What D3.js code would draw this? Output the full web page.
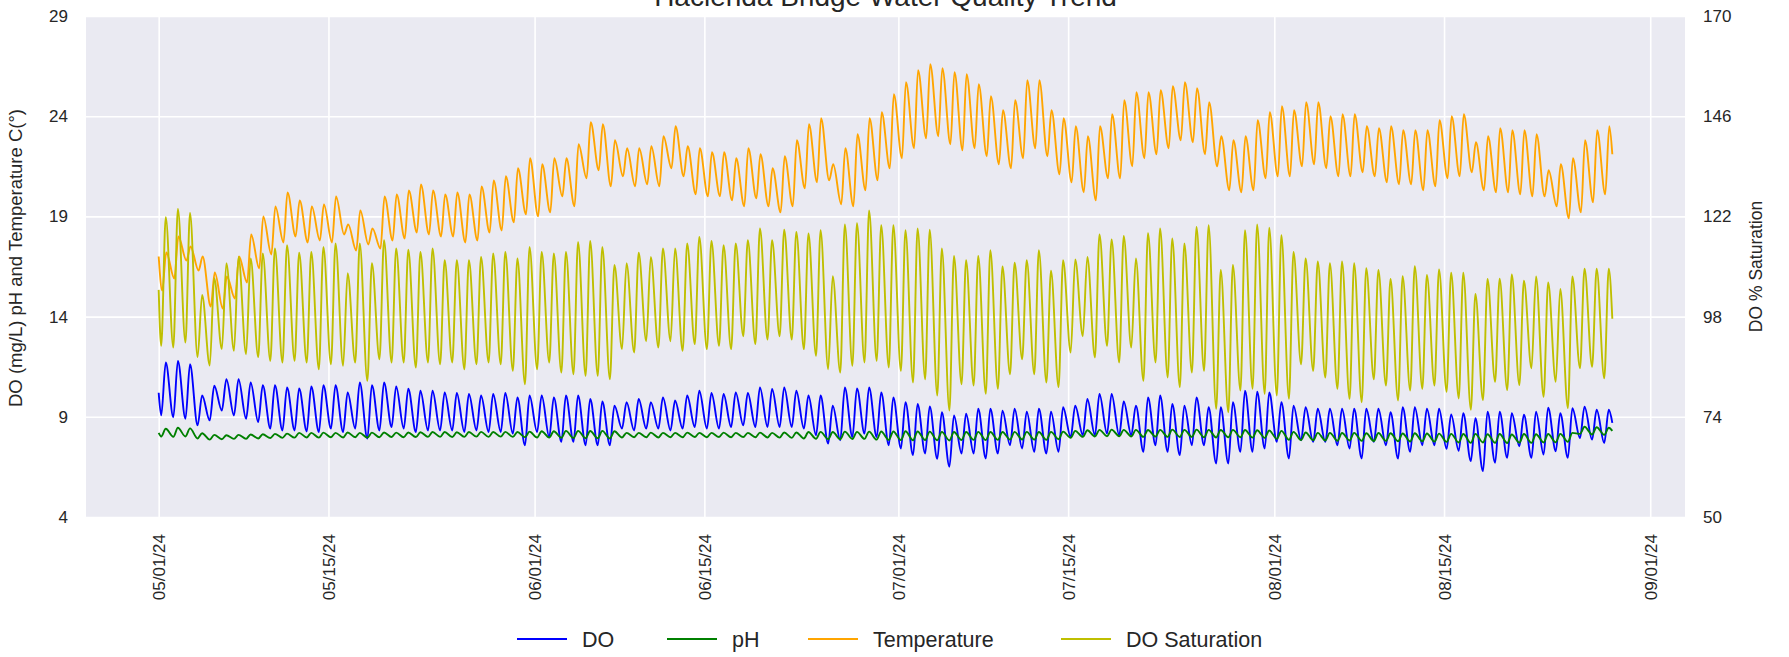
<!DOCTYPE html>
<html>
<head>
<meta charset="utf-8">
<script src="https://cdn.jsdelivr.net/npm/d3@7"></script>
<style>
  html, body { margin: 0; padding: 0; background: #fff; }
  text { font-family: "Liberation Sans", Arial, sans-serif; fill: #262626; }
</style>
</head>
<body>
<div id="chart"></div>
<script>
// daily readings: one low (early morning) and one high (afternoon) per day, 05/01/24 .. 08/28/24
const startDay = Date.UTC(2024, 4, 1)
const endTime = Date.UTC(2024, 7, 28, 21)

const tempLow = [
  15.3, 15.9, 16.8, 16.3, 14.5, 14.4, 14.9, 15.7, 16.4, 17.1,
  17.7, 18.0, 17.7, 17.8, 17.7, 18.1, 17.3, 17.6, 17.4, 17.8,
  17.9, 18.2, 18.1, 18.0, 18.0, 17.7, 17.8, 18.2, 18.3, 18.7,
  19.1, 19.0, 19.2, 20.0, 19.5, 20.9, 21.3, 20.5, 21.0, 20.5,
  20.6, 20.5, 21.4, 21.0, 20.1, 20.0, 20.0, 19.8, 19.5, 19.9,
  19.5, 19.2, 19.5, 20.4, 20.7, 20.8, 19.6, 19.5, 20.3, 20.8,
  21.4, 21.9, 22.4, 22.9, 23.0, 22.6, 22.3, 22.4, 22.0, 21.6,
  21.4, 21.9, 22.4, 22.0, 21.1, 20.7, 20.2, 19.8, 20.9, 20.9,
  21.5, 21.9, 22.1, 22.4, 22.8, 22.7, 22.1, 21.5, 20.3, 20.2,
  20.3, 20.9, 21.0, 21.0, 21.5, 21.6, 21.4, 21.0, 21.0, 21.2,
  21.0, 20.7, 20.6, 20.6, 20.3, 20.5, 20.9, 21.0, 21.2, 20.3,
  20.2, 20.2, 20.1, 20.0, 20.0, 19.5, 18.9, 19.2, 19.7, 20.1
]
const tempHigh = [
  17.2, 18.0, 17.5, 17.0, 16.2, 16.0, 17.0, 18.1, 19.0, 19.5,
  20.2, 19.8, 19.5, 19.6, 20.0, 18.6, 19.3, 18.4, 20.0, 20.1,
  20.3, 20.6, 20.3, 20.1, 20.2, 20.1, 20.5, 20.8, 21.0, 21.4,
  21.9, 21.6, 21.9, 21.9, 22.6, 23.7, 23.6, 22.8, 22.4, 22.4,
  22.5, 23.0, 23.5, 22.5, 22.4, 22.2, 22.2, 21.9, 22.4, 22.1,
  21.4, 22.0, 22.8, 23.6, 23.9, 21.6, 22.4, 23.1, 23.9, 24.2,
  25.1, 25.7, 26.3, 26.6, 26.4, 26.2, 26.1, 25.6, 25.0, 24.3,
  24.8, 25.8, 25.8, 24.3, 23.9, 23.5, 23.0, 23.5, 24.1, 24.8,
  25.2, 25.2, 25.3, 25.5, 25.7, 25.4, 24.7, 23.0, 22.8, 23.0,
  23.8, 24.2, 24.5, 24.3, 24.7, 24.7, 24.0, 24.1, 24.1, 23.5,
  23.4, 23.5, 23.3, 23.3, 23.3, 23.8, 24.0, 24.1, 22.7, 23.0,
  23.4, 23.3, 23.3, 23.1, 21.3, 21.6, 21.9, 22.8, 23.3, 23.5
]

const satLow = [
  91.0, 90.6, 91.8, 88.3, 86.3, 90.2, 89.8, 89.0, 88.3, 87.4,
  87.0, 87.4, 87.0, 85.4, 86.6, 86.2, 87.0, 82.6, 87.8, 87.0,
  87.0, 85.8, 87.0, 86.6, 87.0, 85.4, 86.6, 87.0, 86.6, 85.0,
  81.8, 85.4, 87.0, 84.6, 84.2, 83.8, 83.8, 83.0, 90.2, 89.4,
  92.1, 90.6, 92.1, 89.8, 91.4, 90.2, 91.0, 90.2, 93.3, 91.4,
  92.5, 93.3, 92.5, 90.2, 88.6, 85.4, 84.6, 86.2, 87.0, 87.4,
  85.8, 85.0, 82.2, 83.0, 79.1, 75.5, 81.8, 81.5, 79.5, 80.7,
  84.2, 87.8, 84.2, 82.2, 81.1, 89.4, 93.3, 88.2, 91.0, 87.0,
  90.6, 82.6, 87.0, 83.4, 81.1, 84.6, 85.0, 75.9, 75.1, 80.3,
  80.7, 79.5, 79.1, 78.3, 86.6, 85.0, 83.4, 80.7, 78.3, 77.5,
  83.0, 81.5, 77.9, 80.3, 80.7, 81.5, 80.0, 78.4, 75.7, 78.0,
  82.4, 80.4, 81.6, 85.6, 78.8, 82.4, 76.1, 85.6, 86.0, 83.2
]
const satHigh = [
  121.8, 123.8, 122.8, 103.2, 107.2, 110.8, 112.3, 111.9, 113.1, 114.3,
  115.1, 113.3, 113.5, 114.7, 115.5, 108.4, 115.5, 110.8, 116.3, 114.3,
  114.0, 113.5, 114.3, 111.5, 111.5, 111.5, 112.3, 113.1, 113.5, 111.9,
  114.7, 113.5, 113.1, 113.5, 115.9, 116.1, 114.7, 110.4, 110.8, 113.3,
  112.3, 114.3, 114.3, 115.5, 117.1, 116.1, 115.1, 115.5, 116.3, 119.1,
  116.3, 118.8, 118.3, 117.9, 118.7, 107.7, 120.1, 120.4, 123.4, 119.9,
  119.9, 118.7, 119.1, 118.8, 114.3, 112.5, 111.5, 112.5, 113.9, 110.0,
  110.9, 111.5, 113.9, 109.0, 111.5, 111.7, 112.3, 117.7, 116.5, 117.3,
  111.9, 118.0, 119.1, 116.7, 115.5, 119.5, 119.9, 109.2, 110.4, 118.7,
  120.1, 119.3, 117.5, 113.5, 111.9, 111.2, 110.8, 111.2, 110.8, 109.6,
  109.2, 107.0, 107.7, 110.1, 108.0, 109.3, 108.5, 108.5, 103.4, 107.0,
  107.1, 108.1, 106.6, 107.6, 106.2, 104.6, 107.6, 109.5, 109.5, 109.5
]

const doLow = [
  9.07, 8.98, 8.90, 8.57, 8.82, 9.31, 9.07, 8.90, 8.74, 8.41,
  8.32, 8.32, 8.27, 8.24, 8.41, 8.24, 8.41, 7.91, 8.32, 8.49,
  8.41, 8.24, 8.32, 8.32, 8.32, 8.24, 8.32, 8.24, 8.24, 8.16,
  7.58, 8.24, 7.99, 7.75, 7.75, 7.58, 7.58, 7.58, 8.41, 8.32,
  8.41, 8.41, 8.32, 8.41, 8.49, 8.41, 8.41, 8.49, 8.57, 8.49,
  8.49, 8.49, 8.49, 8.41, 8.08, 7.66, 7.83, 7.99, 8.16, 7.99,
  7.58, 7.42, 7.09, 7.17, 6.90, 6.51, 7.17, 7.17, 6.92, 7.17,
  7.58, 7.42, 7.25, 7.17, 7.25, 7.99, 8.08, 8.08, 8.16, 8.08,
  8.08, 7.25, 7.58, 7.25, 7.09, 7.58, 7.58, 6.67, 6.67, 7.25,
  7.25, 7.42, 7.75, 6.92, 7.83, 7.75, 7.75, 7.58, 7.42, 6.92,
  7.75, 7.58, 6.92, 7.25, 7.58, 7.58, 7.40, 7.30, 6.79, 6.29,
  6.71, 6.95, 7.53, 6.95, 7.12, 7.28, 6.95, 7.94, 7.86, 7.70
]
const doHigh = [
  11.71, 11.79, 11.62, 10.06, 10.55, 10.88, 10.88, 10.72, 10.58, 10.58,
  10.47, 10.42, 10.52, 10.58, 10.58, 10.22, 10.72, 10.58, 10.72, 10.52,
  10.40, 10.30, 10.30, 10.22, 10.19, 10.14, 10.06, 10.14, 10.19, 9.97,
  10.06, 10.06, 9.97, 10.06, 10.06, 9.89, 9.76, 9.56, 9.73, 9.89,
  9.73, 9.97, 9.81, 10.06, 10.30, 10.19, 10.14, 10.22, 10.19, 10.47,
  10.39, 10.47, 10.30, 10.06, 10.06, 9.56, 10.47, 10.42, 10.47, 10.22,
  9.97, 9.73, 9.64, 9.52, 9.23, 9.07, 9.15, 9.40, 9.40, 9.31,
  9.40, 9.26, 9.40, 9.26, 9.48, 9.56, 9.89, 10.14, 10.14, 9.76,
  9.56, 9.97, 10.06, 9.64, 9.56, 9.97, 9.48, 9.48, 9.73, 10.30,
  10.25, 10.22, 9.73, 9.56, 9.48, 9.40, 9.40, 9.40, 9.40, 9.40,
  9.40, 9.23, 9.48, 9.48, 9.40, 9.40, 9.12, 9.18, 8.93, 9.26,
  9.26, 9.18, 9.10, 9.26, 9.46, 9.18, 9.43, 9.51, 9.35, 9.35
]

const phLow = [
  8.02, 8.00, 8.02, 7.92, 7.86, 7.88, 7.90, 7.90, 7.92, 7.94,
  7.95, 7.96, 7.97, 7.96, 7.98, 7.97, 7.98, 7.96, 7.98, 7.99,
  7.98, 7.99, 8.00, 8.00, 7.99, 8.00, 8.01, 8.00, 8.01, 8.00,
  7.98, 7.97, 7.96, 7.95, 7.94, 7.93, 7.93, 7.92, 7.97, 7.98,
  7.98, 7.97, 7.98, 7.98, 7.99, 7.98, 7.99, 7.98, 7.99, 7.98,
  7.97, 7.96, 7.95, 7.92, 7.90, 7.88, 7.88, 7.89, 7.90, 7.86,
  7.85, 7.84, 7.83, 7.84, 7.83, 7.82, 7.84, 7.85, 7.84, 7.85,
  7.86, 7.87, 7.86, 7.85, 7.88, 7.95, 8.00, 8.02, 8.03, 8.03,
  8.02, 8.00, 8.01, 8.00, 7.99, 8.00, 7.98, 7.97, 7.98, 7.98,
  7.96, 7.95, 7.90, 7.85, 7.84, 7.83, 7.82, 7.80, 7.82, 7.80,
  7.79, 7.80, 7.78, 7.77, 7.78, 7.76, 7.75, 7.72, 7.70, 7.72,
  7.70, 7.69, 7.71, 7.70, 7.72, 7.73, 7.75, 8.15, 8.12, 8.10
]
const phHigh = [
  8.40, 8.45, 8.42, 8.18, 8.10, 8.08, 8.10, 8.12, 8.13, 8.15,
  8.16, 8.20, 8.20, 8.21, 8.20, 8.22, 8.20, 8.21, 8.22, 8.21,
  8.22, 8.23, 8.24, 8.24, 8.23, 8.24, 8.25, 8.24, 8.25, 8.24,
  8.26, 8.28, 8.28, 8.30, 8.30, 8.29, 8.30, 8.28, 8.20, 8.20,
  8.21, 8.20, 8.20, 8.21, 8.20, 8.20, 8.21, 8.20, 8.20, 8.21,
  8.20, 8.22, 8.22, 8.24, 8.25, 8.24, 8.26, 8.25, 8.26, 8.27,
  8.27, 8.28, 8.27, 8.26, 8.25, 8.24, 8.24, 8.25, 8.24, 8.24,
  8.25, 8.25, 8.24, 8.25, 8.26, 8.30, 8.33, 8.35, 8.36, 8.35,
  8.35, 8.34, 8.35, 8.36, 8.35, 8.36, 8.35, 8.34, 8.35, 8.34,
  8.33, 8.32, 8.30, 8.25, 8.22, 8.20, 8.20, 8.19, 8.20, 8.18,
  8.19, 8.18, 8.17, 8.18, 8.17, 8.16, 8.15, 8.14, 8.15, 8.13,
  8.14, 8.12, 8.14, 8.13, 8.14, 8.15, 8.20, 8.50, 8.48, 8.45
]

// first and last reading of each series
const seriesNames = ['DO', 'pH', 'Temperature', 'DO Saturation']
const firstVals = [10.2, 8.2, 17.0, 104.4]
const lastVals = [8.7, 8.3, 22.1, 97.5]

const leftTicks = [4, 9, 14, 19, 24, 29]
const rightTicks = [50, 74, 98, 122, 146, 170]
const dateTicks = ['2024-05-01', '2024-05-15', '2024-06-01', '2024-06-15', '2024-07-01', '2024-07-15', '2024-08-01', '2024-08-15', '2024-09-01']

/*
   ----------------------------------------------------------------------
   DIMENSIONS
   ----------------------------------------------------------------------
*/
let width = 1789, height = 657
let margins = { t: 16, b: 140, l: 86, r: 104 }
let chartdims = { width: width - margins.l - margins.r, height: height - margins.t - margins.b }

let svg = d3.select('#chart').selectAll('svg').data([0]).join('svg')
  .attr('width', width).attr('height', height)

const dayMs = 86400000
const hourMs = 3600000

const buildRows = (first, lo, hi, last, loHour, hiHour) => {
  let rows = [{ t: new Date(startDay), v: first }]
  lo.forEach((l, i) => {
    rows.push({ t: new Date(startDay + i * dayMs + loHour * hourMs), v: l })
    rows.push({ t: new Date(startDay + i * dayMs + hiHour * hourMs), v: hi[i] })
  })
  rows.push({ t: new Date(endTime), v: last })
  return rows
}

let series = [
  { name: seriesNames[0], color: '#0000ff', axis: 'left', rows: buildRows(firstVals[0], doLow, doHigh, lastVals[0], 5, 14) },
  { name: seriesNames[1], color: '#008000', axis: 'left', rows: buildRows(firstVals[1], phLow, phHigh, lastVals[1], 5, 14) },
  { name: seriesNames[2], color: '#ffa500', axis: 'left', rows: buildRows(firstVals[2], tempLow, tempHigh, lastVals[2], 7, 15) },
  { name: seriesNames[3], color: '#bfbf00', axis: 'right', rows: buildRows(firstVals[3], satLow, satHigh, lastVals[3], 5, 14) },
]

// matplotlib-like 5% margin on the time axis
let pad = (endTime - startDay) * 0.05
let xScale = d3.scaleUtc().domain([new Date(startDay - pad), new Date(endTime + pad)]).range([0, chartdims.width])
let yLeft = d3.scaleLinear().domain([4, 29]).range([chartdims.height, 0])
let yRight = d3.scaleLinear().domain([50, 170]).range([chartdims.height, 0])

let plotg = svg.selectAll('.plot-g').data([0]).join('g').attr('class', 'plot-g')
  .attr('transform', `translate(${margins.l},${margins.t})`)

plotg.selectAll('.bg').data([0]).join('rect').attr('class', 'bg')
  .attr('width', chartdims.width).attr('height', chartdims.height).attr('fill', '#eaeaf2')

/*
   ----------------------------------------------------------------------
   GRID + AXES
   ----------------------------------------------------------------------
*/
let tickDates = dateTicks.map(d => new Date(d + 'T00:00:00Z'))

let xgrid = d3.axisBottom(xScale).tickValues(tickDates).tickSize(-chartdims.height).tickFormat('')
let ygrid = d3.axisLeft(yLeft).tickValues(leftTicks).tickSize(-chartdims.width).tickFormat('')

plotg.selectAll('.x-grid').data([0]).join('g').attr('class', 'x-grid')
  .attr('transform', `translate(0,${chartdims.height})`).call(xgrid)
plotg.selectAll('.y-grid').data([0]).join('g').attr('class', 'y-grid').call(ygrid)
plotg.selectAll('.x-grid line, .y-grid line').attr('stroke', '#fff').attr('stroke-width', 1.6)
plotg.selectAll('.x-grid .domain, .y-grid .domain').remove()

let yaxisL = d3.axisLeft(yLeft).tickValues(leftTicks).tickSize(0).tickPadding(18)
let yaxisR = d3.axisRight(yRight).tickValues(rightTicks).tickSize(0).tickPadding(18)
let xaxis = d3.axisBottom(xScale).tickValues(tickDates).tickSize(0).tickFormat(d3.utcFormat('%m/%d/%y'))

let ylg = svg.selectAll('.y-left').data([0]).join('g').attr('class', 'y-left')
  .attr('transform', `translate(${margins.l},${margins.t})`).call(yaxisL)
let yrg = svg.selectAll('.y-right').data([0]).join('g').attr('class', 'y-right')
  .attr('transform', `translate(${margins.l + chartdims.width},${margins.t})`).call(yaxisR)
let xg = svg.selectAll('.x-axis').data([0]).join('g').attr('class', 'x-axis')
  .attr('transform', `translate(${margins.l},${margins.t + chartdims.height})`).call(xaxis)

svg.selectAll('.y-left .domain, .y-right .domain, .x-axis .domain').remove()
svg.selectAll('.y-left text, .y-right text').attr('font-size', 17).attr('fill', '#262626')
xg.selectAll('text')
  .attr('font-size', 17).attr('fill', '#262626')
  .attr('text-anchor', 'end')
  .attr('transform', 'rotate(-90)')
  .attr('x', -17).attr('y', 0).attr('dy', '0.35em')

svg.selectAll('.y-label').data([0]).join('text').attr('class', 'y-label')
  .attr('transform', `translate(22,258) rotate(-90)`)
  .attr('text-anchor', 'middle').attr('font-size', 18.5)
  .text('DO (mg/L) pH and Temperature C(°)')

svg.selectAll('.y2-label').data([0]).join('text').attr('class', 'y2-label')
  .attr('transform', `translate(1762,${margins.t + chartdims.height / 2}) rotate(-90)`)
  .attr('text-anchor', 'middle').attr('font-size', 17.5)
  .text('DO % Saturation')

// the title sits partly above the top edge, as in the source figure
svg.selectAll('.title').data([0]).join('text').attr('class', 'title')
  .attr('x', margins.l + chartdims.width / 2).attr('y', 6)
  .attr('text-anchor', 'middle').attr('font-size', 28)
  .text('Hacienda Bridge Water Quality Trend')

/*
   ----------------------------------------------------------------------
   LINES
   ----------------------------------------------------------------------
*/
let clip = svg.selectAll('defs').data([0]).join('defs')
clip.selectAll('clipPath').data([0]).join('clipPath').attr('id', 'plot-clip')
  .selectAll('rect').data([0]).join('rect').attr('width', chartdims.width).attr('height', chartdims.height)

plotg.selectAll('.data-line')
  .data(series)
  .join('path')
  .attr('class', 'data-line')
  .attr('clip-path', 'url(#plot-clip)')
  .attr('d', s => {
    let ys = s.axis === 'left' ? yLeft : yRight
    return d3.line().curve(d3.curveMonotoneX).x(d => xScale(d.t)).y(d => ys(d.v))(s.rows)
  })
  .attr('fill', 'none')
  .attr('stroke', s => s.color)
  .attr('stroke-width', 1.9)
  .attr('stroke-linejoin', 'round')

/*
   ----------------------------------------------------------------------
   LEGEND
   ----------------------------------------------------------------------
*/
let legendX = [517, 667, 808, 1061]
let legendg = svg.selectAll('.legend-g').data([0]).join('g').attr('class', 'legend-g')
  .attr('transform', 'translate(0,639)')

let items = legendg.selectAll('.legend-item').data(series).join('g').attr('class', 'legend-item')
  .attr('transform', (d, i) => `translate(${legendX[i]},0)`)
items.selectAll('line').data(d => [d]).join('line')
  .attr('x1', 0).attr('x2', 50).attr('y1', 0).attr('y2', 0)
  .attr('stroke', d => d.color).attr('stroke-width', 2)
items.selectAll('text').data(d => [d]).join('text')
  .attr('x', 65).attr('dy', '0.35em').attr('font-size', 21.5)
  .text(d => d.name)
</script>
</body>
</html>
